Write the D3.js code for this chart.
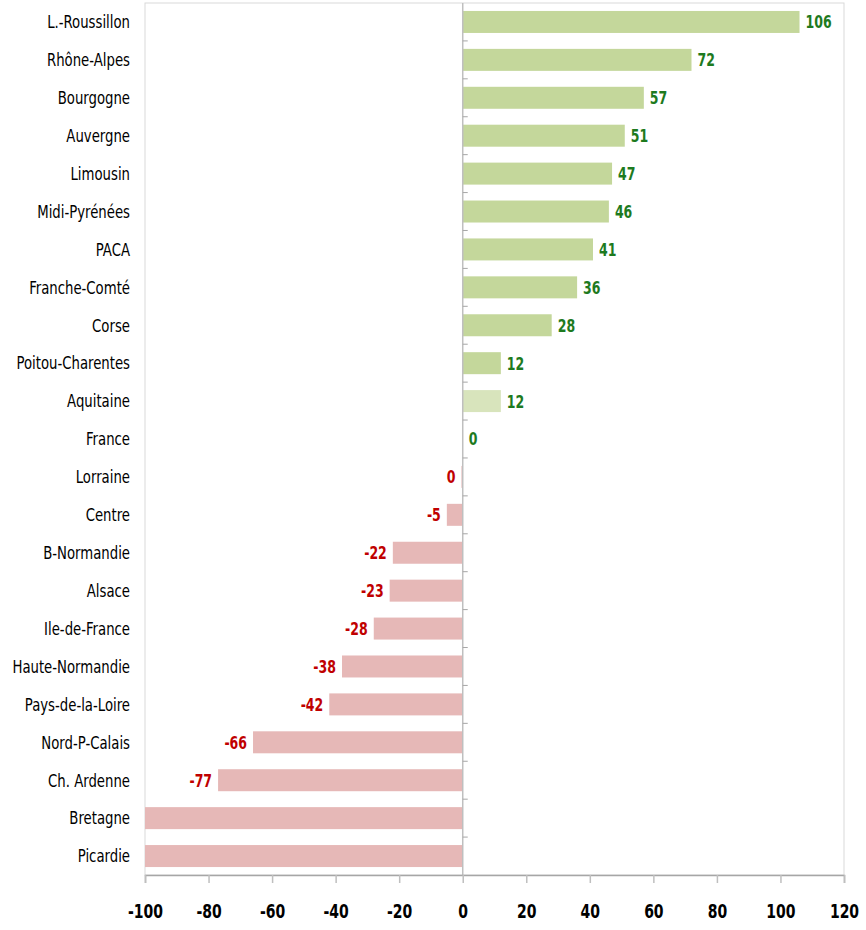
<!DOCTYPE html>
<html>
<head>
<meta charset="utf-8">
<script src="https://cdn.jsdelivr.net/npm/d3@7"></script>
<style>
  body { margin: 0; background: #fff; }
  text { font-family: "DejaVu Sans Condensed", "Liberation Sans Narrow", sans-serif; }
</style>
</head>
<body>
<div id="chart"></div>
<script>
// Regions, top to bottom
const regions = ['L.-Roussillon', 'Rhône-Alpes', 'Bourgogne', 'Auvergne', 'Limousin',
  'Midi-Pyrénées', 'PACA', 'Franche-Comté', 'Corse', 'Poitou-Charentes', 'Aquitaine',
  'France', 'Lorraine', 'Centre', 'B-Normandie', 'Alsace', 'Ile-de-France',
  'Haute-Normandie', 'Pays-de-la-Loire', 'Nord-P-Calais', 'Ch. Ardenne', 'Bretagne', 'Picardie'];
const values = [106, 72, 57, 51, 47, 46, 41, 36, 28, 12, 12,
  0, -0.4, -5, -22, -23, -28, -38, -42, -66, -77, -115, -125];
const xTicks = [-100, -80, -60, -40, -20, 0, 20, 40, 60, 80, 100, 120];

const data = regions.map((r, i) => ({ region: r, value: values[i] }));

const W = 866, H = 930;
const plot = { left: 145, right: 844, top: 3, bottom: 875 };
const narrow = 0.82; // squeeze the condensed font toward the original's look

const svg = d3.select('#chart').append('svg')
    .attr('width', W)
    .attr('height', H);

const x = d3.scaleLinear()
    .domain([-100, 120])
    .range([plot.left, plot.right]);

const y = d3.scaleBand()
    .domain(regions)
    .range([plot.top, plot.bottom])
    .paddingInner(0.42)
    .paddingOuter(0.21);

// plot border
svg.append('rect')
    .attr('x', plot.left).attr('y', plot.top)
    .attr('width', plot.right - plot.left)
    .attr('height', plot.bottom - plot.top)
    .attr('fill', 'none')
    .attr('stroke', '#d9d9d9');

svg.append('clipPath').attr('id', 'clip')
    .append('rect')
    .attr('x', plot.left).attr('y', plot.top)
    .attr('width', plot.right - plot.left)
    .attr('height', plot.bottom - plot.top);

// bars
svg.append('g').attr('clip-path', 'url(#clip)')
    .selectAll('rect')
    .data(data)
    .join('rect')
    .attr('x', d => x(Math.min(0, d.value)))
    .attr('y', d => y(d.region))
    .attr('width', d => Math.abs(x(d.value) - x(0)))
    .attr('height', y.bandwidth())
    .attr('fill', d => d.region === 'Aquitaine' ? '#d8e4bc' : (d.value >= 0 ? '#c4d79b' : '#e6b8b7'));

// category labels
svg.append('g')
    .selectAll('text')
    .data(data)
    .join('text')
    .attr('transform', d => `translate(130,${y(d.region) + y.bandwidth() / 2}) scale(${narrow},1)`)
    .attr('dy', '0.35em')
    .attr('text-anchor', 'end')
    .style('font-size', '18px')
    .style('fill', '#000')
    .text(d => d.region);

// vertical category axis at 0 with ticks between categories
const axisG = svg.append('g');
axisG.append('line')
    .attr('x1', x(0)).attr('x2', x(0))
    .attr('y1', plot.top).attr('y2', plot.bottom)
    .attr('stroke', '#bfbfbf').attr('stroke-width', 1.5);
axisG.selectAll('.ctick')
    .data(regions.slice(1))
    .join('line')
    .attr('class', 'ctick')
    .attr('x1', x(0)).attr('x2', x(0) + 5)
    .attr('y1', d => y(d) - y.step() * y.paddingInner() / 2)
    .attr('y2', d => y(d) - y.step() * y.paddingInner() / 2)
    .attr('stroke', '#a6a6a6');

// value labels (hidden for bars clipped at the axis edge)
svg.append('g')
    .selectAll('text')
    .data(data.filter(d => d.value >= -100))
    .join('text')
    .attr('transform', d => `translate(${d.value >= 0 ? x(d.value) + 6 : x(d.value) - 6},${y(d.region) + y.bandwidth() / 2}) scale(${narrow},1)`)
    .attr('dy', '0.38em')
    .attr('text-anchor', d => d.value >= 0 ? 'start' : 'end')
    .style('font-size', '17px')
    .style('font-weight', 'bold')
    .style('fill', d => (d.value >= 0 ? '#1e7a1e' : '#c00000'))
    .text(d => String(Math.round(d.value) === 0 ? 0 : d.value));

// bottom value axis
const xAxis = svg.append('g')
    .attr('transform', `translate(0,${plot.bottom})`)
    .call(d3.axisBottom(x).tickValues(xTicks).tickSize(8).tickPadding(22).tickFormat(d => String(d)));
xAxis.select('.domain').attr('stroke', '#a6a6a6').attr('stroke-width', 1.5);
xAxis.selectAll('.tick line').attr('stroke', '#bfbfbf').attr('stroke-width', 1.5);
xAxis.selectAll('.tick text')
    .attr('transform', `scale(${narrow},1)`)
    .style('font-size', '19px')
    .style('font-weight', 'bold')
    .style('fill', '#000')
    .style('font-family', '"DejaVu Sans Condensed", sans-serif');
</script>
</body>
</html>
